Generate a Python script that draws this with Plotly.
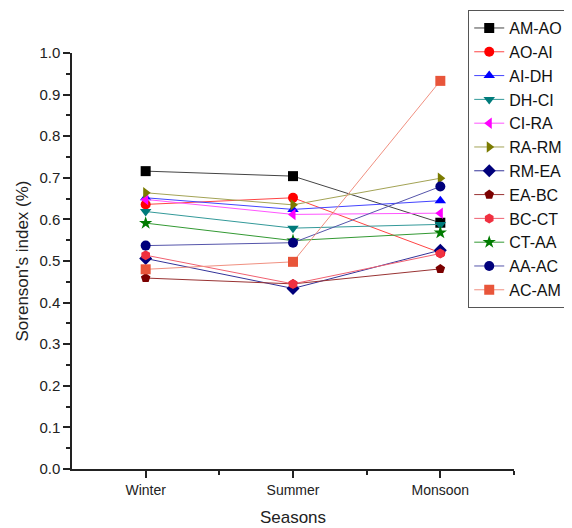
import plotly.graph_objects as go

seasons = ["Winter", "Summer", "Monsoon"]
season_pos = [1, 2, 3]

series_names = ["AM-AO", "AO-AI", "AI-DH", "DH-CI", "CI-RA", "RA-RM",
                "RM-EA", "EA-BC", "BC-CT", "CT-AA", "AA-AC", "AC-AM"]

am_ao = [0.716, 0.704, 0.592]
ao_ai = [0.636, 0.652, 0.520]
ai_dh = [0.652, 0.624, 0.645]
dh_ci = [0.619, 0.579, 0.588]
ci_ra = [0.648, 0.612, 0.615]
ra_rm = [0.664, 0.635, 0.699]
rm_ea = [0.506, 0.434, 0.526]
ea_bc = [0.459, 0.445, 0.481]
bc_ct = [0.514, 0.445, 0.518]
ct_aa = [0.591, 0.549, 0.568]
aa_ac = [0.537, 0.544, 0.679]
ac_am = [0.480, 0.498, 0.933]

values = [am_ao, ao_ai, ai_dh, dh_ci, ci_ra, ra_rm,
          rm_ea, ea_bc, bc_ct, ct_aa, aa_ac, ac_am]

marker_colors = ["#000000", "#ff0000", "#0000ff", "#007b7b", "#ff00ff", "#7b7b00",
                 "#00007b", "#7b0000", "#f03040", "#007b00", "#00007b", "#e8553a"]
line_colors = ["#444444", "#ff4444", "#4444ff", "#339999", "#ff55ff", "#a3a355",
               "#333399", "#993333", "#f06070", "#339933", "#5555aa", "#f09080"]
symbols = ["square", "circle", "triangle-up", "triangle-down", "triangle-left",
           "triangle-right", "diamond", "pentagon", "hexagon", "star", "circle", "square"]

fig = go.Figure()
for name, vals, mc, lc, sym in zip(series_names, values, marker_colors, line_colors, symbols):
    fig.add_trace(go.Scatter(
        x=season_pos, y=vals, name=name, mode="lines+markers",
        line=dict(color=lc, width=1),
        marker=dict(symbol=sym, color=mc, size=10, line=dict(width=0)),
    ))

# page has an 8px body margin, so the figure is 8px smaller than the window
fig.update_layout(
    width=564, height=520,
    margin=dict(l=64, r=58, t=45, b=59, autoexpand=False),
    paper_bgcolor="white", plot_bgcolor="white",
    font=dict(family="Liberation Sans, Arial, sans-serif", color="#222222"),
    showlegend=True,
    legend=dict(
        xref="container", yref="container",
        x=0.816, y=0.996, xanchor="left", yanchor="top",
        bordercolor="#555555", borderwidth=1, bgcolor="white",
        font=dict(size=16, color="#111111"),
        tracegroupgap=0, itemwidth=30, maxheight=500,
    ),
    xaxis=dict(
        range=[0.5, 3.5], tickmode="array", tickvals=season_pos, ticktext=seasons,
        showgrid=False, zeroline=False, showline=True, linecolor="#222222", linewidth=1.5,
        ticks="outside", ticklen=7, tickwidth=1.5, tickcolor="#222222",
        tickfont=dict(size=14),
        minor=dict(tickmode="array", tickvals=[1.5, 2.5, 3.5], ticks="outside",
                   ticklen=4, tickwidth=1.5, tickcolor="#222222", showgrid=False),
        title=dict(text="Seasons", font=dict(size=17), standoff=15),
    ),
    yaxis=dict(
        range=[0, 1.0], dtick=0.1, tickformat=".1f",
        showgrid=False, zeroline=False, showline=True, linecolor="#222222", linewidth=1.5,
        ticks="outside", ticklen=7, tickwidth=1.5, tickcolor="#222222",
        tickfont=dict(size=15),
        minor=dict(dtick=0.05, ticks="outside", ticklen=4, tickwidth=1.5,
                   tickcolor="#222222", showgrid=False),
        title=dict(text="Sorenson's index (%)", font=dict(size=17), standoff=6),
    ),
)

fig.write_html("out.html")
